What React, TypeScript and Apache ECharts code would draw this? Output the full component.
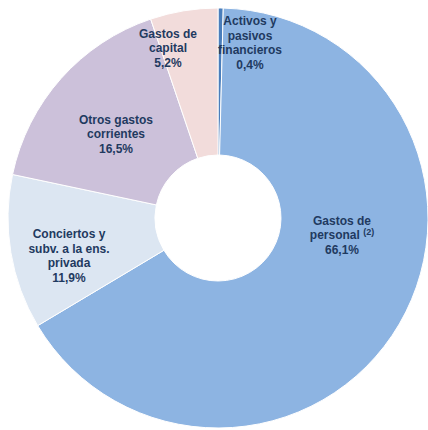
import React, { useEffect, useRef } from "react";
import * as echarts from "echarts";

const categories = [
  "Activos y\npasivos\nfinancieros",
  "Gastos de\npersonal",
  "Conciertos y\nsubv. a la ens.\nprivada",
  "Otros gastos\ncorrientes",
  "Gastos de\ncapital",
];
const values = [0.4, 66.1, 11.9, 16.5, 5.2];
const notes = ["", "(2)", "", "", ""];
const colors = ["#4A7EBB", "#8DB4E2", "#DCE6F2", "#CCC1DA", "#F2DCDB"];

export default function App() {
  const ref = useRef<HTMLDivElement>(null);
  useEffect(() => {
    document.body.style.margin = "0";
    if (!ref.current) return;
    const chart = echarts.init(ref.current, null, { renderer: "svg" });
    const labelPos: [number, number][] = [
      [250, 43],
      [342, 235],
      [69, 256],
      [116, 134],
      [168, 48],
    ];
    const font = "'Liberation Sans', Arial, sans-serif";
    chart.setOption({
      animation: false,
      series: [
        {
          type: "pie",
          center: [218, 218],
          radius: [63, 210],
          startAngle: 90,
          clockwise: true,
          avoidLabelOverlap: false,
          itemStyle: { borderColor: "#ffffff", borderWidth: 1 },
          data: categories.map((name, i) => ({
            name,
            value: values[i],
            itemStyle: { color: colors[i] },
          })),
          label: {
            show: true,
            position: "inside",
            color: "#1F3A60",
            fontFamily: font,
            fontWeight: "bold",
            fontSize: 12,
            lineHeight: 14.5,
            align: "center",
            formatter: (p: any) => {
              const i = p.dataIndex;
              const note = notes[i] ? " {sup|" + notes[i] + "}" : "";
              return (
                categories[i] +
                note +
                "\n" +
                values[i].toFixed(1).replace(".", ",") +
                "%"
              );
            },
            rich: {
              sup: {
                fontSize: 9,
                fontWeight: "bold",
                color: "#1F3A60",
                fontFamily: font,
                verticalAlign: "top",
                lineHeight: 9,
              },
            },
          },
          labelLine: { show: false },
          labelLayout: (params: any) => ({
            x: labelPos[params.dataIndex][0],
            y: labelPos[params.dataIndex][1],
            align: "center",
            verticalAlign: "middle",
          }),
        },
      ],
    });
    return () => chart.dispose();
  }, []);
  return <div ref={ref} style={{ width: 428, height: 430 }} />;
}
